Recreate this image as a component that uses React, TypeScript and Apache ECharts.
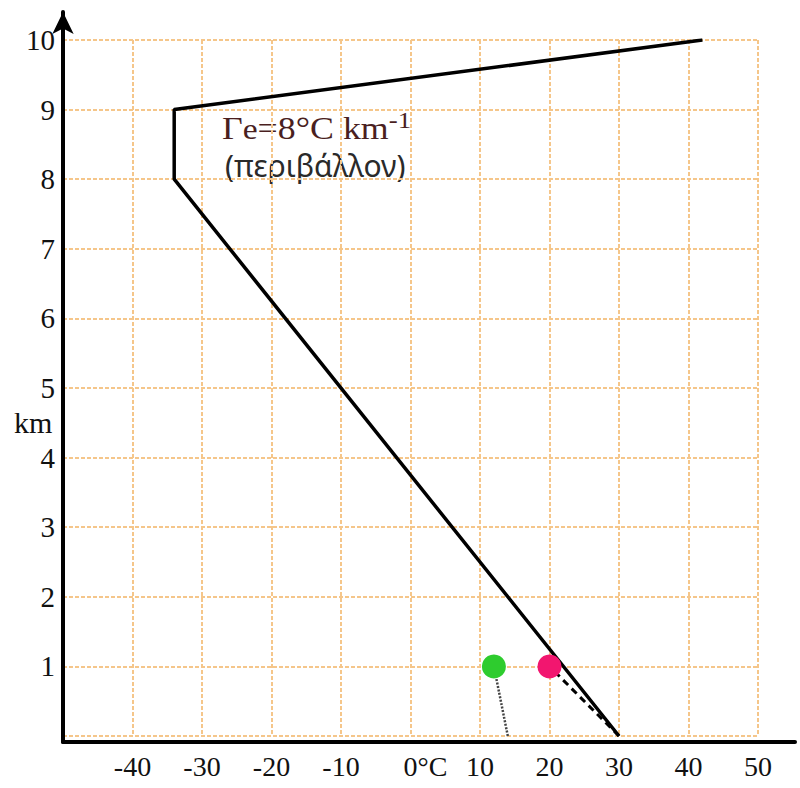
import React, { useEffect, useRef } from "react";
import * as echarts from "echarts";

// Environment profile (°C, km)
const envTemps = [30, -34, -34, 42];
const envHeights = [0, 8, 9, 10];
// Dry adiabatic parcel segment
const dryTemps = [30, 20];
const dryHeights = [0, 1];
// Dew point segment
const dewTemps = [14, 12];
const dewHeights = [0, 1];
// Points at 1 km
const greenPoint = [12, 1];
const pinkPoint = [20, 1];

const xTickValues = [-50, -40, -30, -20, -10, 0, 10, 20, 30, 40, 50];
const xTickLabels = ["", "-40", "-30", "-20", "-10", "0°C", "10", "20", "30", "40", "50"];
const yTickLabels = ["", "1", "2", "3", "4", "5", "6", "7", "8", "9", "10"];
const yAxisName = "km";

const annotationLine1 = "{a|Γ}{b|e}{a|=8°C km}{c|-1}";
const annotationLine2 = "(περιβάλλον)";

const pairs = (xs: number[], ys: number[]) => xs.map((x, i) => [x, ys[i]]);

export default function App() {
  const ref = useRef<HTMLDivElement>(null);
  useEffect(() => {
    document.body.style.margin = "0";
    if (!ref.current) return;
    const chart = echarts.init(ref.current, null, { renderer: "svg" });
    const grid = "#f5c68a";
    chart.setOption({
      animation: false,
      backgroundColor: "#ffffff",
      grid: [
        { left: 63, right: 42, top: 40, bottom: 52, outerBoundsMode: "none", containLabel: false },
        { left: 63, right: 5, top: 12, bottom: 46, outerBoundsMode: "none", containLabel: false },
      ],
      xAxis: [
        {
          type: "value",
          gridIndex: 0,
          min: -50,
          max: 50,
          interval: 10,
          axisLine: { show: false, onZero: false },
          axisTick: { show: false },
          splitLine: { show: true, lineStyle: { color: grid, width: 2, type: [4, 2] } },
          axisLabel: {
            margin: 16,
            fontFamily: "Liberation Serif",
            fontSize: 28,
            color: "#111",
            formatter: (v: number) => {
              const i = xTickValues.indexOf(Math.round(v));
              const s = i >= 0 ? xTickLabels[i] : "";
              return v === 0 ? "{z|" + s + "}" : s;
            },
            rich: {
              z: { fontFamily: "Liberation Serif", fontSize: 28, color: "#111", padding: [0, 0, 0, 30] },
            },
          },
        },
        {
          type: "value",
          gridIndex: 1,
          min: 0,
          max: 1,
          axisLine: { show: true, onZero: false, lineStyle: { color: "#000", width: 4 } },
          axisTick: { show: false },
          axisLabel: { show: false },
          splitLine: { show: false },
        },
      ],
      yAxis: [
        {
          type: "value",
          gridIndex: 0,
          min: 0,
          max: 10,
          interval: 1,
          axisLine: { show: false, onZero: false },
          axisTick: { show: false },
          splitLine: { show: true, lineStyle: { color: grid, width: 2, type: [4, 2] } },
          axisLabel: {
            margin: 8,
            fontFamily: "Liberation Serif",
            fontSize: 29,
            color: "#111",
            formatter: (v: number) => yTickLabels[Math.round(v)] ?? "",
          },
        },
        {
          type: "value",
          gridIndex: 1,
          min: 0,
          max: 1,
          axisLine: {
            show: true,
            onZero: false,
            lineStyle: { color: "#000", width: 4 },
            symbol: ["none", "arrow"],
            symbolSize: [16, 22],
          },
          axisTick: { show: false },
          axisLabel: { show: false },
          splitLine: { show: false },
        },
      ],
      series: [
        {
          type: "line",
          data: pairs(envTemps, envHeights),
          symbol: "none",
          lineStyle: { color: "#000", width: 3.5 },
          z: 3,
        },
        {
          type: "line",
          data: pairs(dryTemps, dryHeights),
          symbol: "none",
          lineStyle: { color: "#000", width: 3, type: [7, 5] },
          z: 3,
        },
        {
          type: "line",
          data: pairs(dewTemps, dewHeights),
          symbol: "none",
          lineStyle: { color: "#444", width: 2.5, type: [2, 1.5] },
          z: 3,
        },
        {
          type: "scatter",
          data: [greenPoint],
          symbolSize: 24,
          itemStyle: { color: "#2ecc2e", opacity: 1 },
          z: 5,
        },
        {
          type: "scatter",
          data: [pinkPoint],
          symbolSize: 24,
          itemStyle: { color: "#f2166f", opacity: 1 },
          z: 5,
        },
      ],
      graphic: [
        {
          type: "text",
          left: 14,
          top: 407,
          style: {
            text: yAxisName,
            fill: "#111",
            font: "30px 'Liberation Serif'",
          },
        },
        {
          type: "text",
          left: 222,
          top: 108,
          scaleX: 1.12,
          style: {
            text: annotationLine1,
            fill: "#4a1f1f",
            font: "32px 'Liberation Serif'",
            rich: {
              a: { fontFamily: "Liberation Serif", fontSize: 32, fill: "#4a1f1f", lineHeight: 36, verticalAlign: "bottom" },
              b: { fontFamily: "Liberation Serif", fontSize: 30, fill: "#4a1f1f", lineHeight: 29, verticalAlign: "bottom" },
              c: { fontFamily: "Liberation Serif", fontSize: 24, fill: "#4a1f1f", lineHeight: 36, verticalAlign: "top" },
            },
          },
        },
        {
          type: "text",
          left: 225,
          top: 150,
          style: {
            text: annotationLine2,
            fill: "#2a2a2a",
            font: "30px 'Noto Sans'",
          },
        },
      ],
    });
    return () => chart.dispose();
  }, []);
  return <div ref={ref} style={{ width: 800, height: 788 }} />;
}
